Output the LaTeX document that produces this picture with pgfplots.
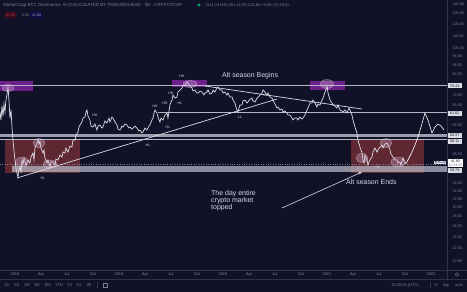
\documentclass[border=0pt]{standalone}
\usepackage{fontspec}
\setmainfont{Liberation Sans}
\usepackage{pgfplots}
\pgfplotsset{compat=1.18}
\usepackage{pgfplotstable}
\usetikzlibrary{arrows.meta}
\definecolor{bg}{RGB}{17,18,40}
\definecolor{candle}{RGB}{218,219,228}
\definecolor{txt}{RGB}{215,216,224}
\definecolor{axtxt}{RGB}{125,128,146}
\definecolor{lvl}{RGB}{180,182,195}
\definecolor{zonered}{RGB}{104,42,50}
\definecolor{zonepurple}{RGB}{120,34,150}
\definecolor{sep}{RGB}{48,50,78}
\newcommand{\fs}[1]{\fontsize{#1}{#1}\selectfont}

\pgfplotstableread{
x y
2017.856 61.80
2017.865 58.17
2017.875 64.67
2017.885 59.95
2017.894 65.65
2017.904 61.80
2017.913 67.67
2017.923 70.28
2017.933 74.67
2017.942 67.67
2017.952 59.05
2017.962 62.74
2017.971 55.17
2017.981 50.00
2017.990 46.36
2018.000 42.98
2018.010 40.46
2018.019 38.96
2018.029 37.80
2018.038 39.86
2018.048 40.77
2018.058 39.26
2018.067 42.98
2018.077 41.70
2018.087 43.64
2018.106 41.39
2018.125 42.98
2018.144 42.02
2018.154 43.97
2018.173 45.32
2018.183 42.98
2018.192 47.06
2018.212 48.88
2018.221 50.00
2018.231 48.51
2018.240 49.62
2018.250 47.06
2018.269 45.32
2018.279 46.36
2018.288 43.64
2018.308 42.02
2018.317 42.98
2018.337 40.77
2018.346 42.34
2018.365 42.34
2018.385 41.39
2018.394 43.31
2018.413 42.98
2018.433 44.64
2018.452 43.97
2018.462 45.66
2018.481 45.32
2018.490 47.06
2018.510 45.66
2018.529 47.78
2018.548 47.42
2018.558 50.00
2018.577 50.00
2018.587 51.93
2018.606 53.12
2018.615 55.17
2018.625 56.01
2018.644 57.30
2018.654 59.05
2018.673 59.50
2018.683 61.80
2018.692 62.74
2018.702 59.95
2018.721 58.17
2018.731 55.59
2018.750 55.17
2018.769 56.44
2018.788 53.93
2018.798 55.59
2018.817 56.01
2018.837 54.75
2018.846 55.17
2018.865 57.73
2018.885 56.87
2018.904 59.05
2018.913 57.30
2018.933 59.50
2018.942 59.05
2018.962 57.30
2018.981 56.01
2018.990 54.34
2019.010 53.93
2019.029 55.59
2019.038 55.17
2019.058 56.44
2019.077 56.01
2019.096 54.75
2019.106 55.17
2019.125 54.34
2019.135 54.75
2019.154 55.59
2019.173 54.75
2019.192 53.52
2019.202 53.93
2019.221 52.72
2019.231 53.12
2019.250 54.75
2019.269 53.93
2019.288 55.59
2019.298 56.01
2019.317 58.17
2019.327 59.05
2019.337 61.33
2019.346 62.74
2019.365 61.33
2019.375 59.50
2019.394 57.30
2019.404 59.05
2019.423 58.17
2019.442 60.41
2019.462 61.33
2019.471 59.05
2019.490 65.16
2019.500 66.65
2019.510 67.67
2019.519 70.28
2019.538 68.70
2019.558 69.22
2019.567 71.89
2019.587 72.99
2019.606 74.11
2019.615 75.24
2019.635 75.81
2019.654 77.55
2019.663 76.97
2019.683 75.24
2019.702 74.11
2019.712 72.44
2019.731 72.99
2019.750 71.35
2019.760 71.35
2019.779 72.44
2019.798 71.89
2019.817 70.28
2019.827 71.35
2019.846 71.89
2019.856 72.99
2019.875 70.81
2019.894 71.35
2019.904 72.99
2019.923 71.89
2019.942 74.11
2019.952 74.67
2019.971 72.99
2019.990 72.99
2020.000 71.35
2020.019 71.89
2020.038 70.28
2020.048 71.35
2020.067 69.22
2020.087 69.22
2020.096 67.67
2020.115 66.15
2020.125 64.18
2020.135 62.74
2020.144 61.80
2020.154 63.70
2020.163 65.16
2020.183 65.16
2020.192 67.16
2020.212 67.67
2020.231 66.15
2020.240 66.65
2020.260 68.18
2020.279 68.70
2020.288 67.16
2020.308 66.65
2020.327 68.70
2020.337 69.22
2020.356 70.28
2020.375 71.35
2020.385 72.99
2020.404 71.89
2020.423 70.28
2020.433 71.35
2020.452 69.22
2020.471 68.70
2020.481 67.67
2020.500 65.65
2020.519 63.70
2020.529 64.18
2020.548 62.74
2020.567 63.22
2020.577 61.80
2020.596 62.27
2020.615 61.33
2020.625 60.41
2020.644 60.41
2020.663 59.05
2020.673 58.17
2020.692 59.05
2020.712 59.05
2020.721 58.17
2020.740 59.50
2020.760 58.61
2020.769 59.05
2020.788 60.41
2020.808 62.74
2020.817 63.70
2020.837 66.15
2020.856 66.15
2020.865 67.67
2020.885 66.15
2020.904 64.18
2020.913 65.65
2020.933 65.16
2020.952 67.67
2020.962 68.70
2020.981 71.89
2020.990 72.99
2021.000 75.24
2021.010 71.35
2021.029 67.67
2021.048 66.15
2021.058 65.16
2021.077 64.67
2021.096 63.70
2021.106 65.16
2021.125 62.74
2021.144 62.27
2021.154 61.80
2021.173 62.74
2021.192 61.33
2021.212 63.70
2021.221 62.74
2021.240 60.41
2021.250 58.17
2021.269 55.17
2021.279 53.93
2021.288 52.72
2021.298 50.00
2021.317 47.42
2021.327 46.36
2021.337 45.32
2021.346 42.98
2021.356 42.02
2021.365 44.64
2021.375 43.64
2021.385 42.98
2021.394 41.39
2021.404 42.34
2021.413 42.98
2021.433 43.97
2021.442 45.66
2021.452 46.36
2021.462 47.06
2021.481 45.66
2021.490 46.36
2021.510 47.42
2021.529 48.14
2021.538 47.06
2021.558 48.51
2021.577 48.88
2021.587 48.14
2021.606 46.36
2021.615 44.98
2021.635 43.97
2021.654 42.98
2021.673 42.98
2021.683 42.02
2021.702 42.34
2021.712 41.39
2021.731 43.64
2021.740 42.66
2021.750 42.34
2021.760 41.80
}\btcd

\pgfplotstableread{
x y
2021.760 41.80
2021.788 43.64
2021.817 45.66
2021.846 48.14
2021.875 51.15
2021.904 55.17
2021.942 61.33
2021.971 58.17
2022.010 52.72
2022.038 55.17
2022.067 56.44
2022.096 55.59
2022.125 53.93
}\proj

\begin{document}
\begin{tikzpicture}
\useasboundingbox (0,0) rectangle (467bp,292bp);
\fill[bg] (0,0) rectangle (467bp,292bp);
\begin{axis}[
  at={(0bp,22bp)}, anchor=south west, scale only axis,
  width=447bp, height=270bp,
  xmin=2017.856, xmax=2022.154,
  ymode=log, ymin=18.71, ymax=144.2,
  axis line style={draw=none},
  major tick length=0pt, minor tick length=0pt,
  xtick={2018,2018.25,2018.5,2018.75,2019,2019.25,2019.5,2019.75,2020,2020.25,2020.5,2020.75,2021,2021.25,2021.5,2021.75,2022},
  xticklabels={2018,Apr,Jul,Oct,2019,Apr,Jul,Oct,2020,Apr,Jul,Oct,2021,Apr,Jul,Oct,2022},
  xticklabel style={font=\fs{4}, text=axtxt, anchor=center, yshift=-4.5bp},
  ytick={20,22,24,26,28,30,32,34,36,45,56,65,70,82,88,94,100,110,120,130,140},
  yticklabels={20.00,22.00,24.00,26.00,28.00,30.00,32.00,34.00,36.00,45.00,56.00,65.00,70.00,82.00,88.00,94.00,100.00,110.00,120.00,130.00,140.00},
  yticklabel pos=right,
  yticklabel style={font=\fs{3.8}, text=axtxt, anchor=west, xshift=2bp},
  clip=true,
]
% zones
\fill[zonered, opacity=0.9] (axis cs:2017.904,50.00) rectangle (axis cs:2018.625,38.96);
\fill[zonered, opacity=0.9] (axis cs:2021.231,50.00) rectangle (axis cs:2021.933,38.96);
\fill[zonepurple, opacity=0.9] (axis cs:2017.856,78.14) rectangle (axis cs:2018.173,72.44);
\fill[zonepurple, opacity=0.9] (axis cs:2019.510,78.73) rectangle (axis cs:2019.846,74.67);
\fill[zonepurple, opacity=0.9] (axis cs:2020.837,78.14) rectangle (axis cs:2021.173,72.99);
% bands and levels
\fill[lvl, opacity=0.85] (axis cs:2017.856,52.4) rectangle (axis cs:2022.154,51.1);
\fill[lvl, opacity=0.75] (axis cs:2017.971,41.05) rectangle (axis cs:2022.154,39.3);
\draw[lvl, line width=1bp] (axis cs:2017.856,75.43) -- (axis cs:2022.154,75.43);
\draw[lvl, line width=0.8bp] (axis cs:2019.375,61.52) -- (axis cs:2022.154,61.52);
\draw[lvl, line width=0.8bp] (axis cs:2017.856,50.11) -- (axis cs:2022.154,50.11);
\draw[axtxt, dotted, line width=0.4bp] (axis cs:2017.856,41.80) -- (axis cs:2022.154,41.80);
% price
\addplot[candle, line width=0.7bp, mark=none] table[x=x,y=y] {\btcd};
\addplot[white, line width=0.6bp, mark=none] table[x=x,y=y] {\proj};
% trend lines
\draw[candle, line width=0.7bp] (axis cs:2018.019,37.52) -- (axis cs:2020.519,68.18);
\draw[candle, line width=0.7bp] (axis cs:2019.827,75.24) -- (axis cs:2021.337,63.22);
% circles
\tikzset{ell/.style={draw=white, draw opacity=0.45, fill={rgb,255:red,215;green,180;blue,215}, fill opacity=0.32, line width=0.4bp}}
\path[ell] (axis cs:2017.933,74.11) ellipse [x radius=6bp, y radius=3.5bp];
\path[ell] (axis cs:2018.067,42.34) ellipse [x radius=6.5bp, y radius=5bp];
\path[ell] (axis cs:2018.231,48.88) ellipse [x radius=6bp, y radius=4.5bp];
\path[ell] (axis cs:2018.337,41.70) ellipse [x radius=7bp, y radius=4bp];
\path[ell] (axis cs:2019.683,76.39) ellipse [x radius=7bp, y radius=3.5bp];
\path[ell] (axis cs:2021.000,76.39) ellipse [x radius=6.5bp, y radius=4.5bp];
\path[ell] (axis cs:2021.337,43.64) ellipse [x radius=6bp, y radius=4.5bp];
\path[ell] (axis cs:2021.567,48.88) ellipse [x radius=6bp, y radius=4.5bp];
\path[ell] (axis cs:2021.683,42.34) ellipse [x radius=7bp, y radius=5bp];
\end{axis}

\begin{scope}[x=1bp, y=-1bp, shift={(0bp,292bp)}]
% separators
\draw[sep, line width=0.6bp] (0,270) -- (467,270);
\draw[sep, line width=0.6bp] (0,279) -- (467,279);
\draw[sep, line width=0.6bp] (447.5,0) -- (447.5,279);
% title
\node[anchor=west, text=axtxt, font=\fs{4.5}, inner sep=0] at (3,5) {Market Cap BTC Dominance, \% (CALCULATED BY TRADINGVIEW) · 3D · CRYPTOCAP};
\fill[teal!70!green] (199,5) circle[radius=1.6bp];
\node[anchor=west, text=axtxt, font=\fs{4}, inner sep=0] at (206,5) {O41.74 H43.08 L41.30 C41.80 +0.06 (+0.15\%)};
\node[anchor=west, draw=red!75!black, text=red!80!white, font=\fs{3.6}, inner sep=0.9bp, rounded corners=0.8bp] at (5,15) {41.80};
\node[anchor=west, text=axtxt, font=\fs{3.6}, inner sep=0] at (22,15) {0.00};
\node[anchor=west, draw=blue!70!black, text=blue!40!white, font=\fs{3.6}, inner sep=0.9bp, rounded corners=0.8bp] at (31,15) {41.80};
% annotations
\node[anchor=west, text=txt, font=\fs{7}, inner sep=0] at (222,76) {Alt season Begins};
\node[anchor=west, text=txt, font=\fs{7}, inner sep=0, align=left] at (211,201) {\fontsize{7}{8}\selectfont The day entire\\crypto market\\topped};
\node[anchor=west, text=txt, font=\fs{7}, inner sep=0] at (346,182) {Alt season Ends};
\draw[candle, line width=0.6bp, -{Stealth[length=3.5bp,width=2.5bp]}] (282,208) -- (362,172);
% swing labels
\tikzset{sw/.style={text=txt, font=\fs{3.6}, inner sep=0}}
\node[sw] at (43,178) {HL};
\node[sw] at (95,115) {HH};
\node[sw] at (155,106) {HH};
\node[sw] at (148,145) {HL};
\node[sw] at (168,127) {HL};
\node[sw] at (165,103) {HH};
\node[sw] at (171,93) {HH};
\node[sw] at (180,103) {HL};
\node[sw] at (182,76) {HH};
\node[sw] at (240,117) {LL};
\node[sw] at (266,95) {LH};
\node[sw] at (378,167) {HL};
% price labels
\tikzset{pl/.style={anchor=west, fill=candle, text=bg, font=\fs{3.8}, inner sep=0.7bp, minimum width=14bp, minimum height=5bp}}
\node[pl] at (447.5,85.7) {75.43};
\node[pl] at (447.5,113.3) {61.52};
\node[pl] at (447.5,135.6) {52.37};
\node[pl] at (447.5,141.4) {50.11};
\node[pl] at (447.5,170.6) {39.78};
\node[anchor=east, fill=candle, text=bg, font=\fs{3.6}, inner sep=0.7bp] at (446.5,162.5) {BTC.D};
\node[anchor=west, fill=white, text=bg, font=\fs{3.6}, inner sep=0.7bp, align=center, minimum width=14bp] at (447.5,163) {\fontsize{3.6}{4}\selectfont 41.80\\\color{axtxt}12:33:23};
% bottom toolbar
\tikzset{tb/.style={text=axtxt, font=\fs{4}, inner sep=0}}
\node[tb] at (7,285) {1D};
\node[tb] at (17,285) {5D};
\node[tb] at (27,285) {1M};
\node[tb] at (37,285) {3M};
\node[tb] at (48,285) {6M};
\node[tb] at (59,285) {YTD};
\node[tb] at (70,285) {1Y};
\node[tb] at (79,285) {5Y};
\node[tb] at (89,285) {All};
\draw[sep, line width=0.5bp] (97,282) -- (97,288);
\draw[axtxt, line width=0.4bp] (103,283) rectangle (107,287.5);
\node[tb] at (405,285) {13:26:26 (UTC)};
\draw[sep, line width=0.5bp] (430,282) -- (430,288);
\node[tb] at (436,285) {\%};
\node[tb] at (446,285) {log};
\node[tb] at (459,285) {auto};
\draw[axtxt, line width=0.4bp] (457,274.5) circle[radius=1.8bp];
\end{scope}
\end{tikzpicture}
\end{document}
